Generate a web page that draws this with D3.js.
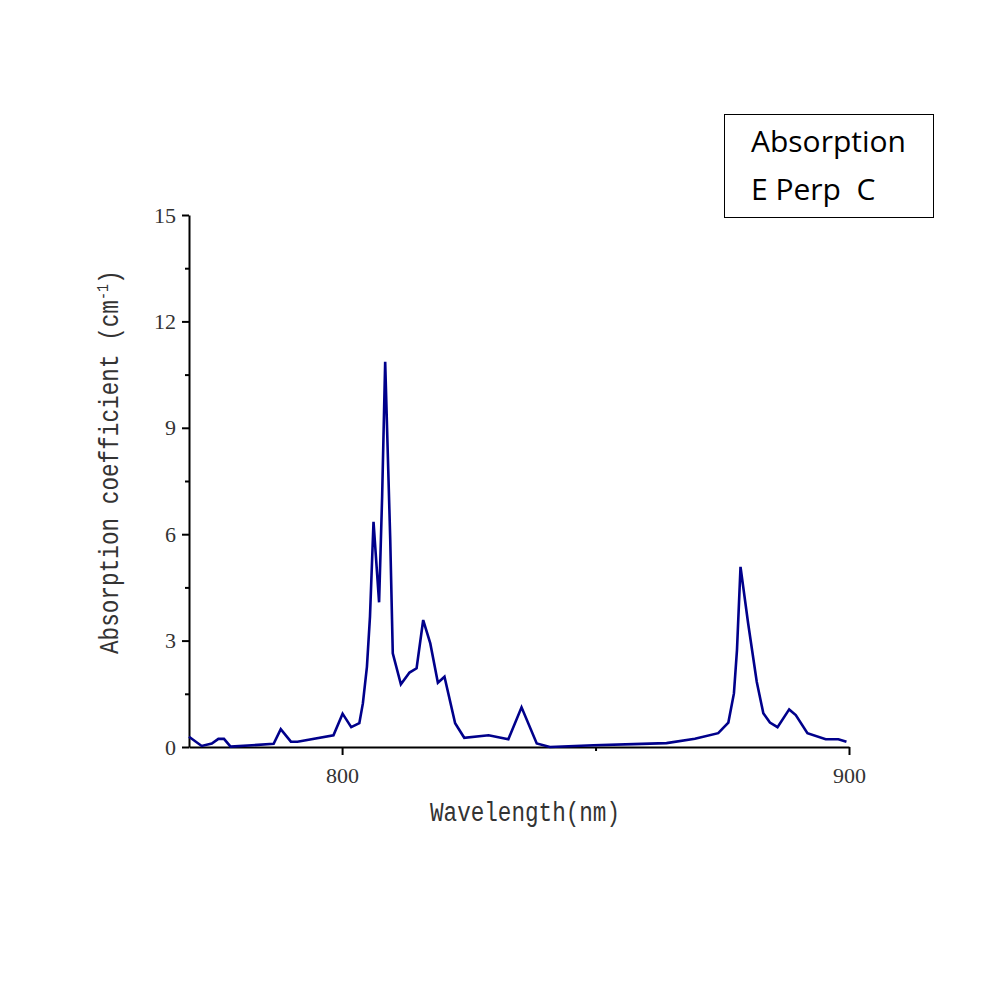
<!DOCTYPE html>
<html><head><meta charset="utf-8">
<script src="https://cdn.jsdelivr.net/npm/d3@7"></script>
<style>body{margin:0;background:#fff}</style>
</head><body>
<svg id="c" width="1000" height="1000"></svg>
<script>
const wavelength = [769.8,772.3,774.3,775.6,776.7,778.0,786.5,787.9,789.9,791.2,798.3,800.1,801.8,803.4,804.1,804.9,805.5,806.2,807.3,807.9,808.5,809.5,810.0,811.6,813.3,814.7,816.0,817.4,818.9,820.2,822.3,824.1,828.9,832.8,835.4,838.4,841.0,849.6,857.5,864.0,869.6,874.2,876.2,877.3,877.9,878.6,880.1,881.8,883.1,884.4,885.9,888.2,889.5,891.8,895.4,897.9,899.5];
const absorption = [0.29,0.03,0.10,0.23,0.23,0.01,0.09,0.50,0.15,0.15,0.33,0.94,0.56,0.67,1.23,2.26,3.67,6.35,4.08,7.06,10.86,5.84,2.64,1.77,2.10,2.22,3.58,2.92,1.81,1.98,0.67,0.26,0.33,0.22,1.12,0.10,0.00,0.05,0.08,0.11,0.23,0.39,0.69,1.51,2.73,5.08,3.49,1.84,0.95,0.69,0.56,1.06,0.90,0.39,0.22,0.22,0.15];
const xMajorTicks = [800, 900];
const xMinorTicks = [850];
const yMajorTicks = [0, 3, 6, 9, 12, 15];
const yMinorTicks = [1.5, 4.5, 7.5, 10.5, 13.5];
const legendLines = ["Absorption", "E Perp  C"];

const svg = d3.select("#c");
const L = 189, R = 849, T = 215, B = 747;
const x = d3.scaleLinear().domain([769.8, 900]).range([L, R]);
const y = d3.scaleLinear().domain([0, 15]).range([B, T]);

const tickFont = "'Liberation Serif', serif";
const titleFont = "'Liberation Mono', monospace";

// x axis
const gx = svg.append("g").attr("transform", `translate(0,${B})`);
gx.call(d3.axisBottom(x).tickValues(xMajorTicks).tickSize(8).tickSizeOuter(0).tickFormat(d3.format("d")));
gx.append("g").call(d3.axisBottom(x).tickValues(xMinorTicks).tickSize(4).tickFormat(""));
gx.selectAll(".domain").attr("stroke", "#000").attr("stroke-width", 2);
gx.selectAll(".tick line").attr("stroke", "#000").attr("stroke-width", 2);
gx.selectAll(".tick text").attr("font-family", tickFont).attr("font-size", 22).attr("fill", "#333").attr("dy", "1.15em");
gx.selectAll("g g .domain").remove();

// y axis
const gy = svg.append("g").attr("transform", `translate(${L},0)`);
gy.call(d3.axisLeft(y).tickValues(yMajorTicks).tickSize(7).tickSizeOuter(0).tickFormat(d3.format("d")));
gy.append("g").call(d3.axisLeft(y).tickValues(yMinorTicks).tickSize(4).tickFormat(""));
gy.selectAll(".domain").attr("stroke", "#000").attr("stroke-width", 2);
gy.selectAll(".tick line").attr("stroke", "#000").attr("stroke-width", 2);
gy.selectAll(".tick text").attr("font-family", tickFont).attr("font-size", 22).attr("fill", "#333").attr("x", -13);
gy.selectAll("g g .domain").remove();

// line
const line = d3.line().x((d, i) => x(wavelength[i])).y(d => y(d));
svg.append("path").datum(absorption)
  .attr("d", line).attr("fill", "none").attr("stroke", "#00008B").attr("stroke-width", 2.6)
  .attr("stroke-linejoin", "miter");

// axis titles
svg.append("text").attr("x", 525).attr("y", 821).attr("text-anchor", "middle")
  .attr("font-family", titleFont).attr("font-size", 27).attr("fill", "#333")
  .attr("textLength", 190).attr("lengthAdjust", "spacingAndGlyphs")
  .text("Wavelength(nm)");

const yt = svg.append("text").attr("transform", "translate(118,462) rotate(-90)")
  .attr("text-anchor", "middle").attr("font-family", titleFont).attr("font-size", 27).attr("fill", "#333");
yt.append("tspan").text("Absorption coefficient (cm").attr("textLength", 354).attr("lengthAdjust", "spacingAndGlyphs");
yt.append("tspan").text("-1").attr("font-size", 16).attr("dy", -10).attr("textLength", 16).attr("lengthAdjust", "spacingAndGlyphs");
yt.append("tspan").text(")").attr("dy", 10).attr("textLength", 14).attr("lengthAdjust", "spacingAndGlyphs");

// legend
svg.append("rect").attr("x", 724.5).attr("y", 114.5).attr("width", 209).attr("height", 103)
  .attr("fill", "#fff").attr("stroke", "#000").attr("stroke-width", 1);
svg.selectAll(".leg").data(legendLines).join("text")
  .attr("x", 751).attr("y", (d, i) => 152 + i * 48)
  .attr("font-family", "'Open Sans', 'Noto Sans', sans-serif").attr("font-size", 30).attr("fill", "#000")
  .style("white-space", "pre")
  .text(d => d);
</script>
</body></html>
